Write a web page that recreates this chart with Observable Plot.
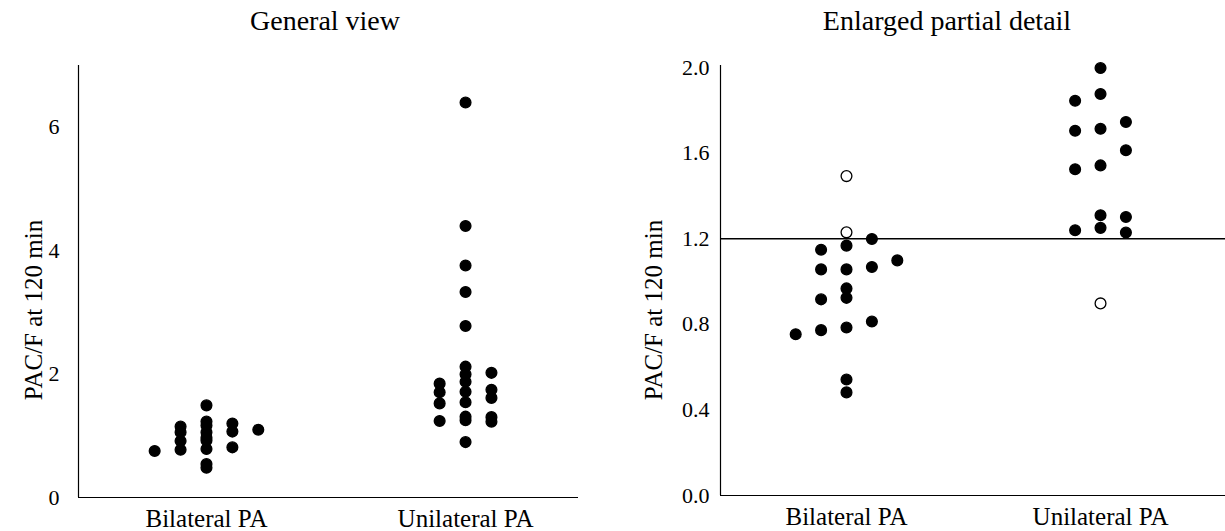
<!DOCTYPE html>
<html>
<head>
<meta charset="utf-8">
<script src="https://cdn.jsdelivr.net/npm/d3@7"></script>
<script src="https://cdn.jsdelivr.net/npm/@observablehq/plot@0.6"></script>
<style>
  html, body { margin: 0; padding: 0; background: #fff; }
  #root { position: relative; width: 1225px; height: 531px; overflow: hidden; font-family: "Liberation Serif", "Times New Roman", serif; }
  .panel { position: absolute; top: 0; }
  .panel svg text { font-family: "Liberation Serif", "Times New Roman", serif !important; }
  .title { position: absolute; font-size: 28px; line-height: 1; white-space: nowrap; transform: translateX(-50%); color: #000; }
  .ylab { position: absolute; font-size: 25px; line-height: 1; white-space: nowrap; transform: translate(-50%, -50%) rotate(-90deg); color: #000; }
</style>
</head>
<body>
<div id="root"></div>
<script>
// ---- data ----
const groups = ["Bilateral PA", "Unilateral PA"];
const panelTitles = ["General view", "Enlarged partial detail"];
const yLabel = "PAC/F at 120 min";

const bilateralValues  = [0.754, 1.149, 1.057, 0.917, 0.773, 1.493, 1.230, 1.168, 1.057, 0.968, 0.924, 0.785, 0.542, 0.482, 1.199, 1.068, 0.813, 1.099];
const bilateralColumns = [-2, -1, -1, -1, -1, 0, 0, 0, 0, 0, 0, 0, 0, 0, 1, 1, 1, 2];
const bilateralOpen    = [0, 0, 0, 0, 0, 1, 1, 0, 0, 0, 0, 0, 0, 0, 0, 0, 0, 0];

const unilateralValues  = [1.845, 1.705, 1.525, 1.240, 6.40, 4.40, 3.76, 3.33, 2.78, 2.12, 1.998, 1.877, 1.714, 1.543, 1.310, 1.251, 0.898, 2.02, 1.746, 1.614, 1.302, 1.229];
const unilateralColumns = [-1, -1, -1, -1, 0, 0, 0, 0, 0, 0, 0, 0, 0, 0, 0, 0, 0, 1, 1, 1, 1, 1];
const unilateralOpen    = [0, 0, 0, 0, 0, 0, 0, 0, 0, 0, 0, 0, 0, 0, 0, 0, 1, 0, 0, 0, 0, 0];

const cutoff = [1.2];
const leftTicks = [0, 2, 4, 6];
const rightTicks = [0, 0.4, 0.8, 1.2, 1.6, 2.0];

// ---- build rows ----
const colStep = 0.1;
const rows = [];
bilateralValues.forEach((v, i) => rows.push({group: 0, x: 0 + bilateralColumns[i] * colStep, value: v, open: !!bilateralOpen[i]}));
unilateralValues.forEach((v, i) => rows.push({group: 1, x: 1 + unilateralColumns[i] * colStep, value: v, open: !!unilateralOpen[i]}));

const font = '"Liberation Serif", "Times New Roman", serif';
const root = document.getElementById("root");

function panel({left, width, marginLeft, marginRight, marginTop, marginBottom, xDomain, yDomain, yTicks, tickFmt, tickPadding, data, showOpen, rule}) {
  const marks = [
    Plot.ruleX([xDomain[0]], {y1: yDomain[0], y2: yDomain[1], stroke: "#000", strokeWidth: 1.2}),
    Plot.ruleY([yDomain[0]], {x1: xDomain[0], x2: xDomain[1], stroke: "#000", strokeWidth: 1.2}),
  ];
  if (rule) marks.push(Plot.ruleY(rule, {x1: xDomain[0], x2: xDomain[1], stroke: "#000", strokeWidth: 1.6}));
  marks.push(
    Plot.dot(data, {x: "x", y: "value", r: 5.4,
      fill: d => (showOpen && d.open) ? "#fff" : "#000",
      stroke: "#000", strokeWidth: 1.3}),
    Plot.axisY({ticks: yTicks, tickSize: 0, tickPadding, tickFormat: tickFmt, label: null, fontSize: 22, fontFamily: font, fill: "#000"}),
    Plot.axisX({ticks: [0, 1], tickSize: 0, tickPadding: 12, tickFormat: d => groups[d], label: null, fontSize: 25, fontFamily: font, fill: "#000"})
  );
  const chart = Plot.plot({
    width, height: 531, marginLeft, marginRight, marginTop, marginBottom,
    style: {fontFamily: font, background: "#fff", color: "#000", overflow: "visible"},
    x: {domain: xDomain, axis: null},
    y: {domain: yDomain, axis: null},
    marks
  });
  const wrap = document.createElement("div");
  wrap.className = "panel";
  wrap.style.left = left + "px";
  wrap.appendChild(chart);
  root.appendChild(wrap);
}

panel({left: 0, width: 600, marginLeft: 78, marginRight: 22, marginTop: 65, marginBottom: 34,
  xDomain: [-0.494, 1.436], yDomain: [0, 7], yTicks: leftTicks, tickFmt: d3.format("d"), tickPadding: 19,
  data: rows, showOpen: false, rule: null});

panel({left: 600, width: 625, marginLeft: 120, marginRight: 0, marginTop: 65, marginBottom: 36,
  xDomain: [-0.496, 1.492], yDomain: [0, 2.01], yTicks: rightTicks, tickFmt: d3.format(".1f"), tickPadding: 11,
  data: rows.filter(d => d.value <= 2.0), showOpen: true, rule: cutoff});

function addText(cls, text, x, y) {
  const d = document.createElement("div");
  d.className = cls; d.textContent = text;
  d.style.left = x + "px"; d.style.top = y + "px";
  root.appendChild(d);
}
addText("title", panelTitles[0], 325, 7);
addText("title", panelTitles[1], 947, 7);
addText("ylab", yLabel, 33, 310);
addText("ylab", yLabel, 653, 310);
</script>
</body>
</html>
